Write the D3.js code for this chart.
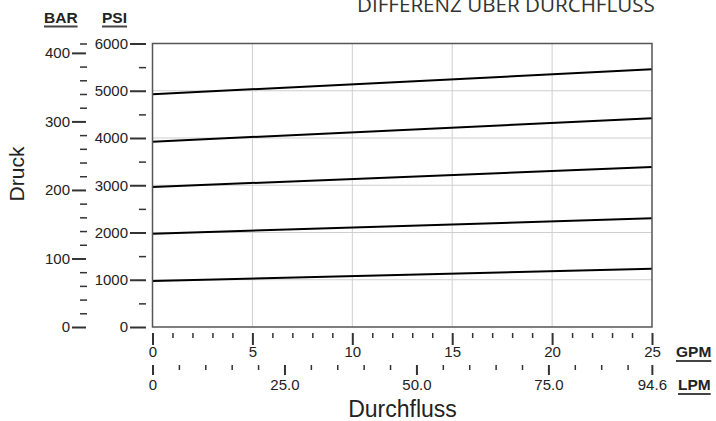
<!DOCTYPE html>
<html>
<head>
<meta charset="utf-8">
<script src="https://cdn.jsdelivr.net/npm/d3@7"></script>
<style>
    body { margin: 0; background: #fff; }
    svg { display: block; }
    .tick text { font-family: "Liberation Sans", Arial, sans-serif; font-size: 15px; fill: #222; }
    .major .tick line { stroke: #333; stroke-width: 2; }
    .minor .tick line { stroke: #333; stroke-width: 1.5; }
</style>
</head>
<body>
<svg id="gfx" width="716" height="421"></svg>
<script>
// flow points (GPM) where the curves were read
const flowGpm = [0, 25];

// pressure curves, PSI at each flow point
const curve1000 = [975, 1234];
const curve2000 = [1975, 2300];
const curve3000 = [2963, 3386];
const curve4000 = [3922, 4417];
const curve5000 = [4925, 5454];
const curves = [curve1000, curve2000, curve3000, curve4000, curve5000];

// tick values
const psiMajor = [0, 1000, 2000, 3000, 4000, 5000, 6000];
const psiMinor = [500, 1500, 2500, 3500, 4500, 5500];
const barMajor = [0, 100, 200, 300, 400];
const gpmMajor = [0, 5, 10, 15, 20, 25];
const lpmMajor = [0, 25, 50, 75, 94.6];

const PSI_PER_BAR = 14.5038;
const LPM_PER_GPM = 3.785;

const gfx = {
    left: 152.5,
    right: 652,
    top: 43.5,
    bottom: 327
};

const svg = d3.select("#gfx");

const x = d3.scaleLinear().domain([0, 25]).range([gfx.left, gfx.right]);
const xLpm = d3.scaleLinear().domain([0, 25 * LPM_PER_GPM]).range([gfx.left, gfx.right]);
const y = d3.scaleLinear().domain([0, 6000]).range([gfx.bottom, gfx.top]);
const yBar = d3.scaleLinear().domain([0, 6000 / PSI_PER_BAR]).range([gfx.bottom, gfx.top]);

// minor ticks
const gpmMinor = d3.range(0, 25, 1).filter(v => v % 5 !== 0);
const lpmMinor = d3.range(5, 94, 5).filter(v => v % 25 !== 0);
const barMinor = d3.range(20, 400, 20).filter(v => v % 100 !== 0).concat([yBar.domain()[1]]);

// gridlines
const grid = svg.append("g").attr("class", "grid");
grid.selectAll("line.h")
    .data(psiMajor.slice(1, -1))
    .enter().append("line")
    .attr("x1", gfx.left).attr("x2", gfx.right)
    .attr("y1", d => y(d)).attr("y2", d => y(d))
    .attr("stroke", "#cfcfcf").attr("stroke-width", 1);
grid.selectAll("line.v")
    .data(gpmMajor.slice(1, -1))
    .enter().append("line")
    .attr("y1", gfx.top).attr("y2", gfx.bottom)
    .attr("x1", d => x(d)).attr("x2", d => x(d))
    .attr("stroke", "#cfcfcf").attr("stroke-width", 1);

// curves
const line = d3.line()
    .x((d, i) => x(flowGpm[i]))
    .y(d => y(d));
svg.append("g").selectAll("path")
    .data(curves)
    .enter().append("path")
    .attr("d", line)
    .attr("fill", "none")
    .attr("stroke", "#000")
    .attr("stroke-width", 2);

// frame
svg.append("rect")
    .attr("x", gfx.left).attr("y", gfx.top)
    .attr("width", gfx.right - gfx.left).attr("height", gfx.bottom - gfx.top)
    .attr("fill", "none").attr("stroke", "#555").attr("stroke-width", 1.5);

function addAxis(axis, cls, tx, ty) {
    const g = svg.append("g")
        .attr("class", cls)
        .attr("transform", "translate(" + tx + "," + ty + ")")
        .call(axis);
    g.select(".domain").remove();
    return g;
}

// PSI axis
addAxis(d3.axisLeft(y).tickValues(psiMajor).tickSize(16).tickPadding(2).tickFormat(d3.format("d")), "major", 146, 0);
addAxis(d3.axisLeft(y).tickValues(psiMinor).tickSize(7).tickFormat(""), "minor", 146, 0);

// BAR axis
addAxis(d3.axisLeft(yBar).tickValues(barMajor).tickSize(14).tickPadding(2).tickFormat(d3.format("d")), "major", 86, 0);
addAxis(d3.axisLeft(yBar).tickValues(barMinor).tickSize(7).tickFormat(""), "minor", 87, 0);

// GPM axis
addAxis(d3.axisBottom(x).tickValues(gpmMajor).tickSize(12).tickPadding(1).tickFormat(d3.format("d")), "major", 0, 333);
addAxis(d3.axisBottom(x).tickValues(gpmMinor).tickSize(5).tickFormat(""), "minor", 0, 333);

// LPM axis
addAxis(d3.axisBottom(xLpm).tickValues(lpmMajor).tickSize(10).tickPadding(4)
    .tickFormat(d => d === 0 ? "0" : d.toFixed(1)), "major", 0, 365);
addAxis(d3.axisBottom(xLpm).tickValues(lpmMinor).tickSize(5).tickFormat(""), "minor", 0, 365);

// underlined unit headers
function unitLabel(text, x0, baseline) {
    const t = svg.append("text")
        .attr("x", x0).attr("y", baseline)
        .attr("font-family", "Liberation Sans, Arial, sans-serif")
        .attr("font-size", 15.5).attr("font-weight", "bold")
        .attr("fill", "#222")
        .text(text);
    const w = t.node().getComputedTextLength();
    svg.append("line")
        .attr("x1", x0).attr("x2", x0 + w)
        .attr("y1", baseline + 4).attr("y2", baseline + 4)
        .attr("stroke", "#444").attr("stroke-width", 2);
}
unitLabel("BAR", 44, 22.5);
unitLabel("PSI", 102, 22.5);
unitLabel("GPM", 676, 357);
unitLabel("LPM", 678, 390);

// axis titles
svg.append("text")
    .attr("transform", "translate(24,174) rotate(-90)")
    .attr("text-anchor", "middle")
    .attr("font-family", "Liberation Sans, Arial, sans-serif")
    .attr("font-size", 21).attr("fill", "#222")
    .text("Druck");
svg.append("text")
    .attr("x", 402.5).attr("y", 417)
    .attr("text-anchor", "middle")
    .attr("font-family", "Liberation Sans, Arial, sans-serif")
    .attr("font-size", 23).attr("fill", "#222")
    .text("Durchfluss");

// title, cut off at the top edge
const title = svg.append("text")
    .attr("x", 357).attr("y", 12)
    .attr("font-family", "Open Sans, sans-serif")
    .attr("font-size", 20).attr("fill", "#333")
    .text("DIFFERENZ ÜBER DURCHFLUSS");
const tw = title.node().getComputedTextLength();
title.attr("font-size", 20 * 298 / tw);
</script>
</body>
</html>
